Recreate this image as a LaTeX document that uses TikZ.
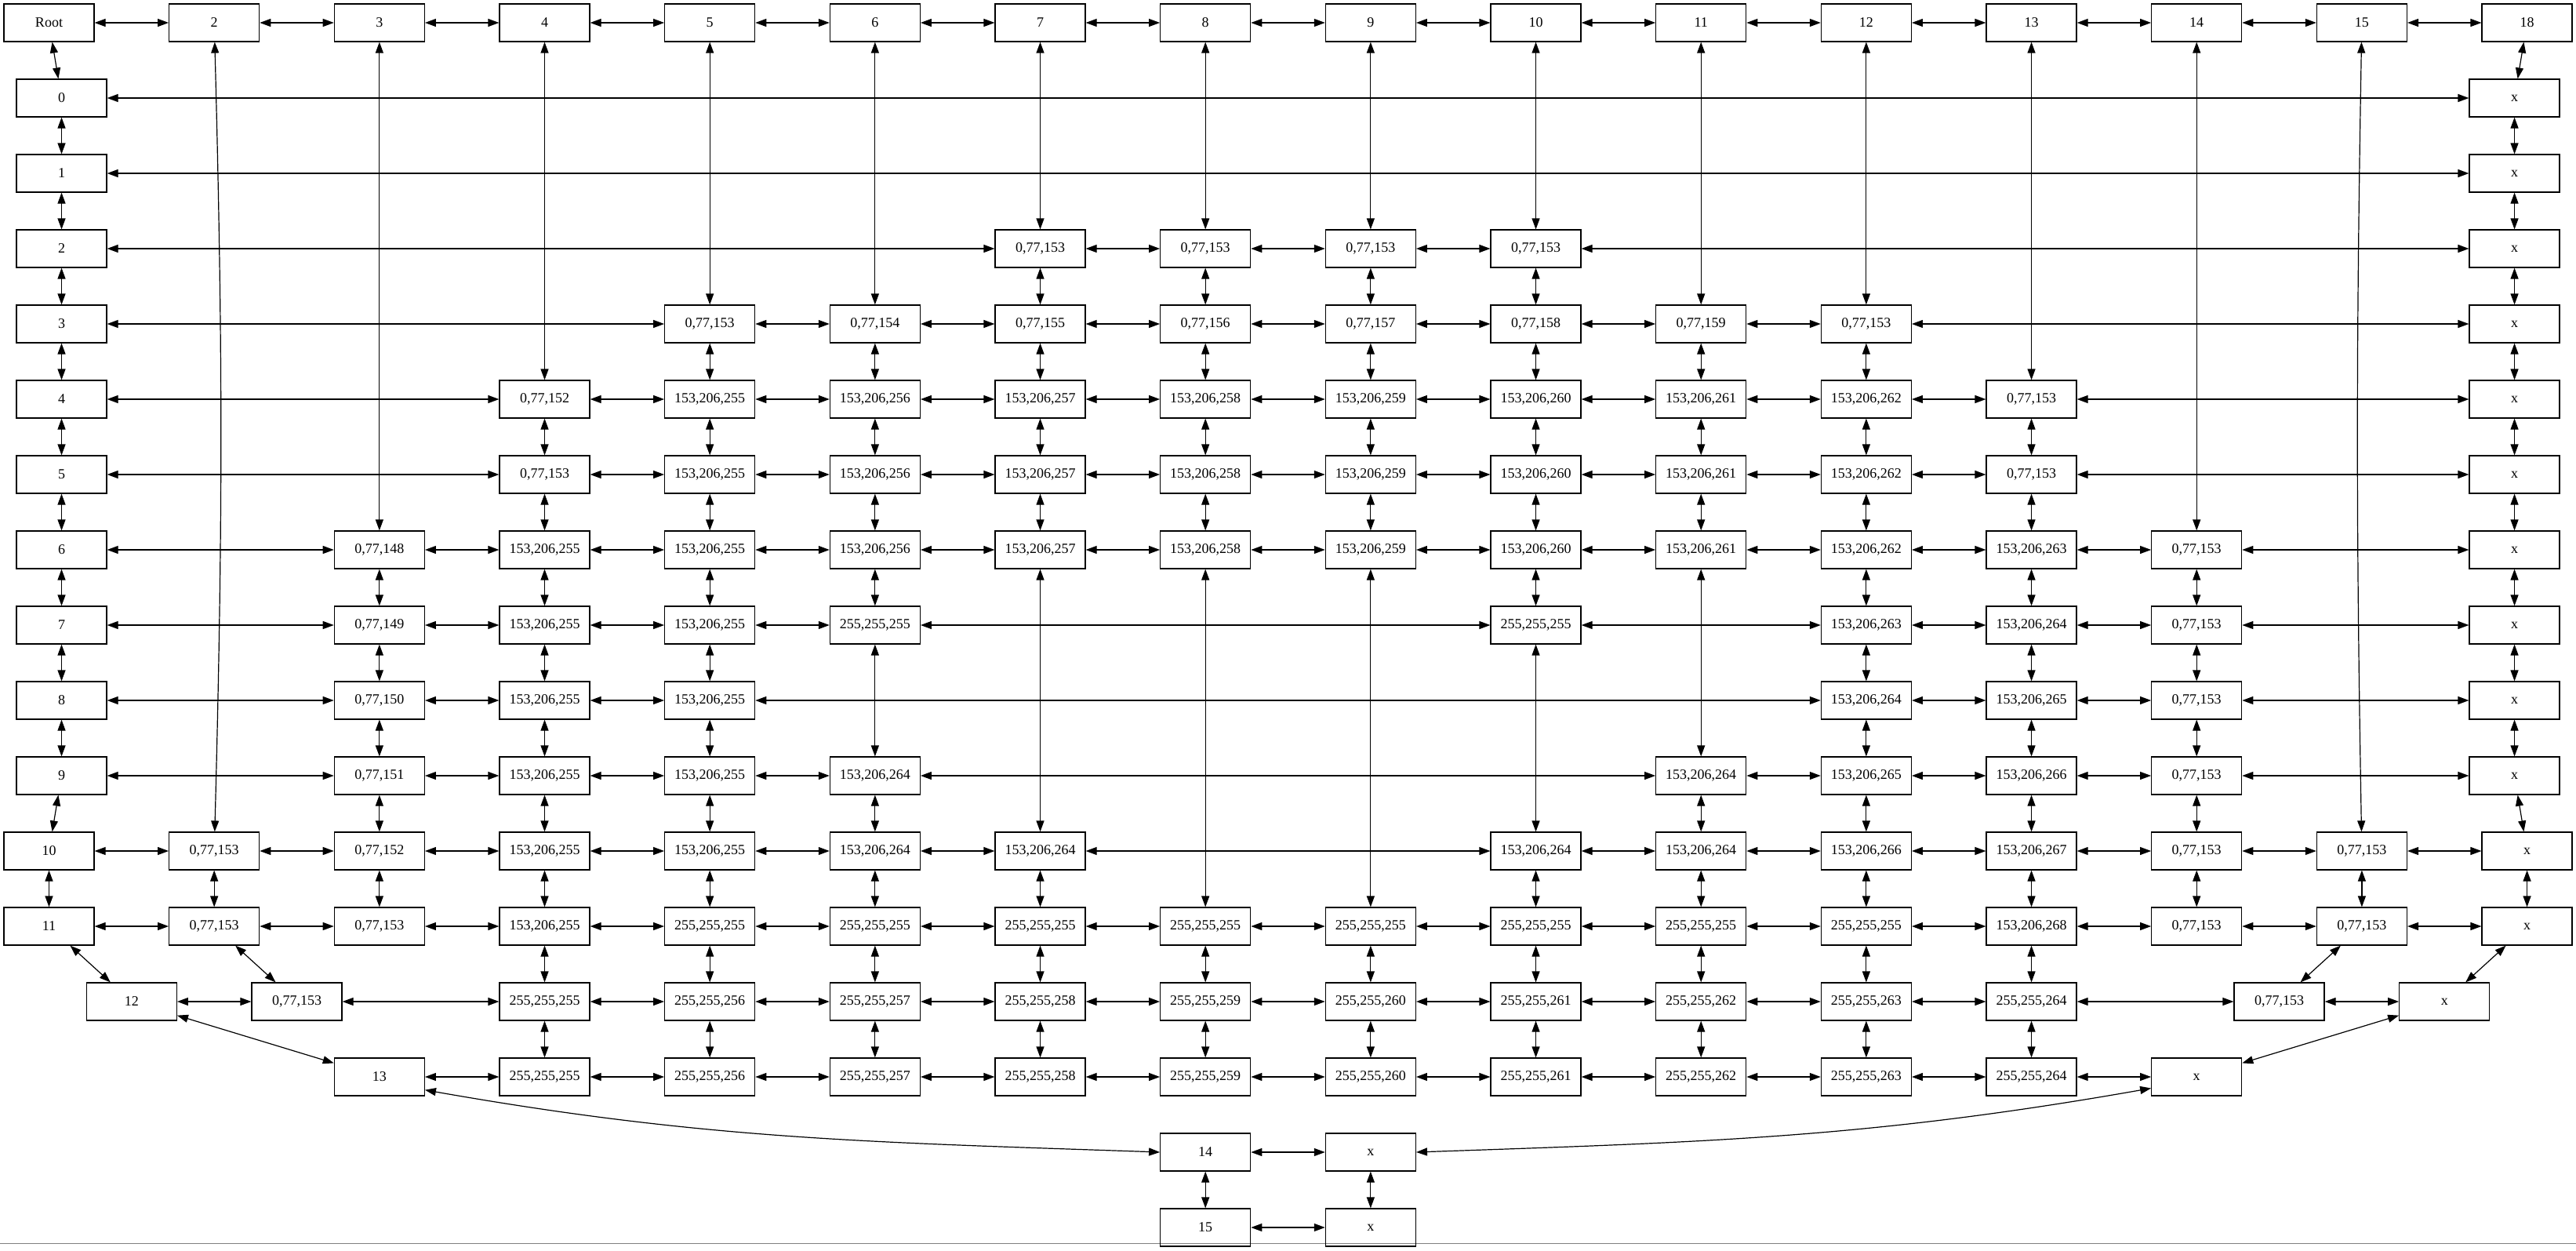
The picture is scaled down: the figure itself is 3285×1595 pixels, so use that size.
\documentclass[tikz,border=0pt]{standalone}
\usepackage{fontspec}
\setmainfont{Liberation Serif}
\usetikzlibrary{arrows.meta}
\newcommand\cellfont{\fontsize{18}{20}\selectfont}
\tikzset{
  cell/.style={draw, line width=1.2pt, minimum width=115pt, minimum height=48pt, inner sep=0pt, font=\cellfont},
  link/.style={line width=1.2pt, {Triangle[length=14pt,width=10pt]}-{Triangle[length=14pt,width=10pt]}},
  rule/.style={gray, line width=1pt}
}
\begin{document}
\begin{tikzpicture}[x=210.67pt, y=-96pt, shift={(62.5pt,-29pt)}]
  \useasboundingbox (-62.5pt,29pt) rectangle ++(3285pt,-1595pt);
  \draw[rule] (-62.5pt,-1556pt) -- (3222.5pt,-1556pt);

  % top row
  \foreach \k/\lbl in {0/Root,1/2,2/3,3/4,4/5,5/6,6/7,7/8,8/9,9/10,10/11,11/12,12/13,13/14,14/15,15/18}
    \node[cell] (t\k) at (\k,0) {\lbl};

  % border columns
  \foreach \row in {0,...,9} {
    \node[cell] (n\row-0) at (0.076,\row+1) {\row};
    \node[cell] (n\row-15) at (14.924,\row+1) {x};
  }
  \node[cell] (n10-0) at (0,11) {10};
  \node[cell] (n10-15) at (15,11) {x};
  \node[cell] (n11-0) at (0,12) {11};
  \node[cell] (n11-15) at (15,12) {x};

  % row 2
  \foreach \k in {6,...,9} \node[cell] (n2-\k) at (\k,3) {0,77,153};
  % row 3
  \foreach \k/\lbl in {4/153,5/154,6/155,7/156,8/157,9/158,10/159,11/153}
    \node[cell] (n3-\k) at (\k,4) {0,77,\lbl};
  % rows 4 and 5
  \foreach \row in {4,5} {
    \foreach \k/\lbl in {4/255,5/256,6/257,7/258,8/259,9/260,10/261,11/262}
      \node[cell] (n\row-\k) at (\k,\row+1) {153,206,\lbl};
    \node[cell] (n\row-12) at (12,\row+1) {0,77,153};
  }
  \node[cell] (n4-3) at (3,5) {0,77,152};
  \node[cell] (n5-3) at (3,6) {0,77,153};
  % row 6
  \node[cell] (n6-2) at (2,7) {0,77,148};
  \foreach \k/\lbl in {3/255,4/255,5/256,6/257,7/258,8/259,9/260,10/261,11/262,12/263}
    \node[cell] (n6-\k) at (\k,7) {153,206,\lbl};
  \node[cell] (n6-13) at (13,7) {0,77,153};
  % row 7
  \node[cell] (n7-2) at (2,8) {0,77,149};
  \node[cell] (n7-3) at (3,8) {153,206,255};
  \node[cell] (n7-4) at (4,8) {153,206,255};
  \node[cell] (n7-5) at (5,8) {255,255,255};
  \node[cell] (n7-9) at (9,8) {255,255,255};
  \node[cell] (n7-11) at (11,8) {153,206,263};
  \node[cell] (n7-12) at (12,8) {153,206,264};
  \node[cell] (n7-13) at (13,8) {0,77,153};
  % row 8
  \node[cell] (n8-2) at (2,9) {0,77,150};
  \node[cell] (n8-3) at (3,9) {153,206,255};
  \node[cell] (n8-4) at (4,9) {153,206,255};
  \node[cell] (n8-11) at (11,9) {153,206,264};
  \node[cell] (n8-12) at (12,9) {153,206,265};
  \node[cell] (n8-13) at (13,9) {0,77,153};
  % row 9
  \node[cell] (n9-2) at (2,10) {0,77,151};
  \foreach \k/\lbl in {3/255,4/255,5/264,10/264,11/265,12/266}
    \node[cell] (n9-\k) at (\k,10) {153,206,\lbl};
  \node[cell] (n9-13) at (13,10) {0,77,153};
  % row 10
  \node[cell] (n10-1) at (1,11) {0,77,153};
  \node[cell] (n10-2) at (2,11) {0,77,152};
  \foreach \k/\lbl in {3/255,4/255,5/264,6/264,9/264,10/264,11/266,12/267}
    \node[cell] (n10-\k) at (\k,11) {153,206,\lbl};
  \node[cell] (n10-13) at (13,11) {0,77,153};
  \node[cell] (n10-14) at (14,11) {0,77,153};
  % row 11
  \node[cell] (n11-1) at (1,12) {0,77,153};
  \node[cell] (n11-2) at (2,12) {0,77,153};
  \node[cell] (n11-3) at (3,12) {153,206,255};
  \foreach \k in {4,...,11} \node[cell] (n11-\k) at (\k,12) {255,255,255};
  \node[cell] (n11-12) at (12,12) {153,206,268};
  \node[cell] (n11-13) at (13,12) {0,77,153};
  \node[cell] (n11-14) at (14,12) {0,77,153};
  % row 12
  \node[cell] (n12-0) at (0.5,13) {12};
  \node[cell] (n12-1) at (1.5,13) {0,77,153};
  \foreach \k/\lbl in {3/255,4/256,5/257,6/258,7/259,8/260,9/261,10/262,11/263,12/264}
    \node[cell] (n12-\k) at (\k,13) {255,255,\lbl};
  \node[cell] (n12-13) at (13.5,13) {0,77,153};
  \node[cell] (n12-14) at (14.5,13) {x};
  % row 13
  \node[cell] (n13-2) at (2,14) {13};
  \foreach \k/\lbl in {3/255,4/256,5/257,6/258,7/259,8/260,9/261,10/262,11/263,12/264}
    \node[cell] (n13-\k) at (\k,14) {255,255,\lbl};
  \node[cell] (n13-13) at (13,14) {x};
  % rows 14 and 15
  \node[cell] (n14-7) at (7,15) {14};
  \node[cell] (n14-8) at (8,15) {x};
  \node[cell] (n15-7) at (7,16) {15};
  \node[cell] (n15-8) at (8,16) {x};

  % horizontal links
  \foreach \ca [evaluate=\ca as \cb using int(\ca+1)] in {0,...,14}
    \draw[link] (t\ca) -- (t\cb);
  \foreach \row/\ca/\cb in {
      0/0/15, 1/0/15,
      2/0/6, 2/6/7, 2/7/8, 2/8/9, 2/9/15,
      3/0/4, 3/4/5, 3/5/6, 3/6/7, 3/7/8, 3/8/9, 3/9/10, 3/10/11, 3/11/15,
      4/0/3, 4/3/4, 4/4/5, 4/5/6, 4/6/7, 4/7/8, 4/8/9, 4/9/10, 4/10/11, 4/11/12, 4/12/15,
      5/0/3, 5/3/4, 5/4/5, 5/5/6, 5/6/7, 5/7/8, 5/8/9, 5/9/10, 5/10/11, 5/11/12, 5/12/15,
      6/0/2, 6/2/3, 6/3/4, 6/4/5, 6/5/6, 6/6/7, 6/7/8, 6/8/9, 6/9/10, 6/10/11, 6/11/12, 6/12/13, 6/13/15,
      7/0/2, 7/2/3, 7/3/4, 7/4/5, 7/5/9, 7/9/11, 7/11/12, 7/12/13, 7/13/15,
      8/0/2, 8/2/3, 8/3/4, 8/4/11, 8/11/12, 8/12/13, 8/13/15,
      9/0/2, 9/2/3, 9/3/4, 9/4/5, 9/5/10, 9/10/11, 9/11/12, 9/12/13, 9/13/15,
      10/0/1, 10/1/2, 10/2/3, 10/3/4, 10/4/5, 10/5/6, 10/6/9, 10/9/10, 10/10/11, 10/11/12, 10/12/13, 10/13/14, 10/14/15,
      11/0/1, 11/1/2, 11/2/3, 11/3/4, 11/4/5, 11/5/6, 11/6/7, 11/7/8, 11/8/9, 11/9/10, 11/10/11, 11/11/12, 11/12/13, 11/13/14, 11/14/15,
      12/0/1, 12/1/3, 12/3/4, 12/4/5, 12/5/6, 12/6/7, 12/7/8, 12/8/9, 12/9/10, 12/10/11, 12/11/12, 12/12/13, 12/13/14,
      13/2/3, 13/3/4, 13/4/5, 13/5/6, 13/6/7, 13/7/8, 13/8/9, 13/9/10, 13/10/11, 13/11/12, 13/12/13,
      14/7/8, 15/7/8}
    \draw[link] (n\row-\ca) -- (n\row-\cb);

  % vertical links
  \foreach \k/\ra in {0/0, 2/6, 3/4, 4/3, 5/3, 6/2, 7/2, 8/2, 9/2, 10/3, 11/3, 12/4, 13/6, 15/0}
    \draw[link] (t\k) -- (n\ra-\k);
  \draw[link] (t1) to[out=-88.5, in=88.5] (n10-1);
  \draw[link] (t14) to[out=-91, in=91] (n10-14);
  \foreach \k/\ra/\rb in {
      0/0/1, 0/1/2, 0/2/3, 0/3/4, 0/4/5, 0/5/6, 0/6/7, 0/7/8, 0/8/9, 0/9/10, 0/10/11, 0/11/12,
      1/10/11, 1/11/12,
      2/6/7, 2/7/8, 2/8/9, 2/9/10, 2/10/11,
      3/4/5, 3/5/6, 3/6/7, 3/7/8, 3/8/9, 3/9/10, 3/10/11, 3/11/12, 3/12/13,
      4/3/4, 4/4/5, 4/5/6, 4/6/7, 4/7/8, 4/8/9, 4/9/10, 4/10/11, 4/11/12, 4/12/13,
      5/3/4, 5/4/5, 5/5/6, 5/6/7, 5/7/9, 5/9/10, 5/10/11, 5/11/12, 5/12/13,
      6/2/3, 6/3/4, 6/4/5, 6/5/6, 6/6/10, 6/10/11, 6/11/12, 6/12/13,
      7/2/3, 7/3/4, 7/4/5, 7/5/6, 7/6/11, 7/11/12, 7/12/13, 7/14/15,
      8/2/3, 8/3/4, 8/4/5, 8/5/6, 8/6/11, 8/11/12, 8/12/13, 8/14/15,
      9/2/3, 9/3/4, 9/4/5, 9/5/6, 9/6/7, 9/7/10, 9/10/11, 9/11/12, 9/12/13,
      10/3/4, 10/4/5, 10/5/6, 10/6/9, 10/9/10, 10/10/11, 10/11/12, 10/12/13,
      11/3/4, 11/4/5, 11/5/6, 11/6/7, 11/7/8, 11/8/9, 11/9/10, 11/10/11, 11/11/12, 11/12/13,
      12/4/5, 12/5/6, 12/6/7, 12/7/8, 12/8/9, 12/9/10, 12/10/11, 12/11/12, 12/12/13,
      13/6/7, 13/7/8, 13/8/9, 13/9/10, 13/10/11,
      14/10/11,
      15/0/1, 15/1/2, 15/2/3, 15/3/4, 15/4/5, 15/5/6, 15/6/7, 15/7/8, 15/8/9, 15/9/10, 15/10/11}
    \draw[link] (n\ra-\k) -- (n\rb-\k);

  % diagonal and curved links
  \draw[link] (n12-0) -- (n13-2);
  \draw[link] (n11-14) -- (n12-13);
  \draw[link] (n11-15) -- (n12-14);
  \draw[link] (n12-14) -- (n13-13);
  \draw[link] (n13-2.-16) to[out=-10, in=178] (n14-7.west);
  \draw[link] (n13-13.194) to[out=190, in=2] (n14-8.east);
\end{tikzpicture}
\end{document}
